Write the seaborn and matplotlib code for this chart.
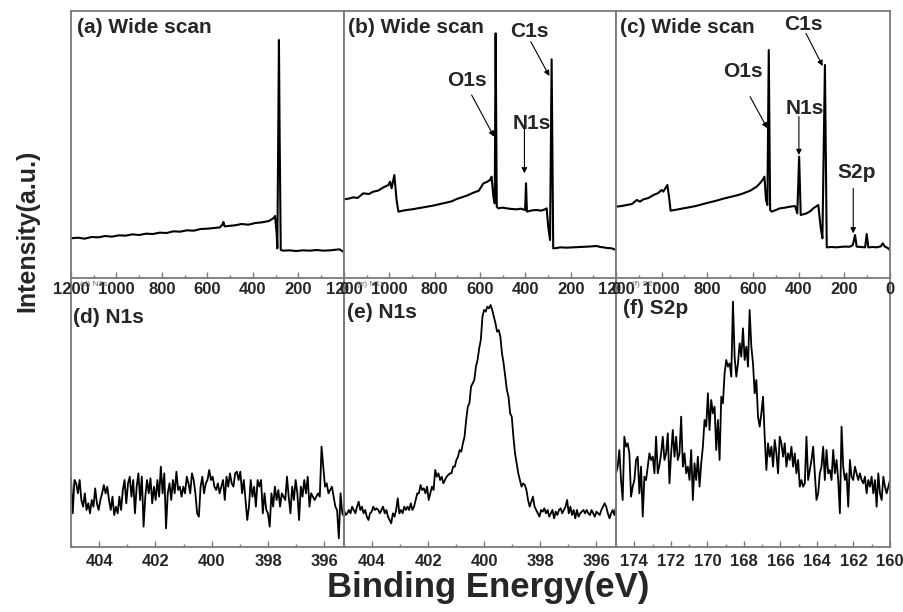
import numpy as np
import pandas as pd
import matplotlib
matplotlib.use("Agg")
import matplotlib.pyplot as plt
import seaborn as sns
from matplotlib.ticker import MultipleLocator

# ---- wide scans (binding energy in eV, intensity in a.u.) ----
a_be = [1200, 1170, 1140, 1110, 1080, 1050, 1020, 990, 960, 930,
        900, 870, 840, 810, 780, 750, 720, 690, 660, 630,
        600, 570, 545, 535, 530, 525, 510, 480, 450, 420,
        390, 360, 330, 311, 303, 296, 293, 289, 286, 283,
        278, 267, 240, 210, 180, 150, 120, 90, 60, 35,
        20, 10, 0]
a_int = [119, 121, 118, 123, 122, 126, 124, 128, 127, 131,
         129, 133, 132, 136, 135, 140, 139, 143, 142, 147,
         148, 150, 152, 160, 168, 155, 156, 158, 162, 160,
         165, 167, 171, 179, 186, 134, 89, 434, 714, 434,
         84, 82, 83, 81, 83, 82, 84, 82, 83, 85,
         86, 82, 78]

b_be = [1200, 1180, 1159, 1140, 1115, 1090, 1071, 1050, 1026, 1004,
        997, 990, 978, 968, 960, 940, 924, 900, 875, 850,
        825, 800, 776, 750, 725, 703, 680, 655, 629, 605,
        585, 570, 556, 549, 541, 535, 531, 526, 519, 500,
        482, 460, 438, 420, 401, 397, 393, 370, 350, 330,
        313, 306, 299, 291, 284, 277, 260, 247, 220, 188,
        160, 129, 105, 85, 70, 56, 40, 19, 0]
b_int = [236, 238, 242, 240, 254, 252, 259, 262, 272, 279,
         289, 269, 309, 234, 199, 202, 204, 206, 209, 212,
         215, 218, 222, 226, 230, 237, 242, 248, 256, 262,
         284, 288, 294, 304, 244, 224, 734, 214, 209, 211,
         209, 207, 206, 208, 204, 284, 199, 203, 204, 202,
         206, 209, 154, 114, 656, 89, 90, 92, 91, 92,
         93, 94, 95, 96, 93, 92, 90, 89, 84]

c_be = [1200, 1175, 1153, 1130, 1109, 1095, 1080, 1058, 1036, 1015,
        1000, 993, 975, 966, 961, 935, 905, 880, 850, 818,
        790, 760, 730, 700, 670, 642, 612, 584, 570, 558,
        550, 543, 537, 531, 525, 518, 500, 482, 460, 438,
        416, 406, 398, 391, 365, 350, 336, 314, 304, 296,
        285, 277, 255, 234, 205, 175, 163, 153, 146, 125,
        109, 102, 95, 75, 58, 40, 32, 22, 10, 0]
c_int = [214, 216, 219, 222, 234, 229, 236, 240, 249, 255,
         264, 259, 279, 234, 202, 205, 209, 212, 216, 222,
         227, 232, 238, 243, 248, 254, 262, 274, 284, 294,
         304, 234, 219, 684, 204, 199, 204, 209, 211, 214,
         216, 194, 364, 189, 194, 200, 209, 219, 154, 119,
         639, 92, 93, 92, 94, 94, 99, 129, 94, 93,
         92, 132, 92, 93, 92, 95, 104, 94, 90, 84]

# ---- high resolution scans, read left to right (405 -> 395.3 eV, 175 -> 160 eV) ----
d_int = [205, 100, 200, 190, 160, 200, 140, 120, 160, 110, 130, 100, 140, 120, 175, 130,
         110, 140, 160, 185, 160, 180, 140, 110, 150, 95, 120, 100, 150, 110, 170, 200,
         130, 190, 210, 150, 200, 100, 180, 220, 140, 210, 60, 150, 200, 160, 205, 130,
         180, 140, 200, 150, 240, 160, 220, 55, 160, 190, 140, 200, 160, 225, 170, 180,
         150, 180, 160, 210, 190, 160, 220, 200, 160, 100, 90, 180, 210, 160, 190, 200,
         230, 200, 210, 180, 170, 190, 160, 180, 200, 140, 210, 180, 220, 190, 180, 220,
         225, 200, 225, 160, 200, 140, 80, 120, 200, 150, 180, 120, 200, 180, 200, 100,
         160, 110, 100, 60, 160, 120, 180, 140, 170, 120, 160, 150, 140, 210, 150, 100,
         180, 140, 200, 160, 80, 180, 150, 200, 160, 210, 120, 160, 150, 140, 150, 160,
         150, 300, 240, 180, 190, 160, 170, 180, 150, 120, 110, 25, 160, 100, 90]
e_int = [110, 95, 100, 110, 100, 120, 110, 100, 120, 135, 110, 120, 100, 110, 90, 80,
         100, 105, 120, 110, 115, 110, 100, 110, 120, 100, 110, 90, 80, 70, 100, 90,
         110, 145, 100, 110, 100, 120, 110, 120, 110, 130, 110, 120, 140, 160, 160, 185,
         170, 175, 160, 180, 140, 160, 180, 170, 230, 210, 220, 200, 210, 190, 200, 210,
         215, 220, 220, 240, 240, 260, 270, 290, 285, 310, 330, 380, 420, 430, 480, 490,
         500, 540, 560, 595, 620, 690, 710, 705, 720, 715, 725, 710, 690, 670, 645, 650,
         630, 580, 550, 510, 470, 450, 400, 390, 330, 280, 250, 220, 200, 180, 190, 185,
         170, 140, 120, 135, 150, 120, 110, 100, 90, 110, 105, 115, 100, 110, 90, 100,
         110, 85, 105, 95, 110, 115, 100, 110, 120, 140, 100, 120, 95, 110, 85, 110,
         90, 100, 105, 110, 100, 110, 100, 95, 110, 100, 90, 105, 100, 95, 110, 120,
         130, 120, 100, 85, 100, 110, 95, 120]
f_int = [220, 240, 290, 200, 140, 330, 300, 310, 280, 150, 180, 200, 260, 270, 160, 240,
         90, 210, 200, 240, 280, 260, 270, 220, 330, 220, 245, 280, 330, 260, 280, 340,
         190, 280, 350, 270, 330, 260, 280, 390, 240, 280, 220, 240, 200, 290, 140, 250,
         200, 270, 180, 250, 300, 380, 360, 460, 350, 440, 400, 420, 290, 380, 260, 450,
         430, 520, 560, 540, 550, 510, 735, 570, 510, 550, 610, 570, 655, 560, 600, 540,
         710, 600, 550, 460, 500, 390, 360, 400, 450, 330, 230, 310, 270, 300, 240, 320,
         280, 220, 330, 310, 270, 310, 240, 280, 260, 300, 240, 280, 220, 260, 180, 200,
         180, 190, 330, 200, 230, 260, 300, 220, 140, 160, 220, 240, 300, 200, 290, 220,
         230, 200, 290, 220, 260, 200, 100, 360, 240, 200, 220, 120, 260, 210, 200, 240,
         220, 200, 220, 200, 190, 210, 160, 200, 180, 210, 160, 200, 120, 220, 160, 140,
         210, 180, 160, 180, 200]

d_be = np.linspace(405, 395.3, len(d_int))   # instrument step grid
e_be = np.linspace(405, 395.3, len(e_int))
f_be = np.linspace(175, 160, len(f_int))

titles = ["(a) Wide scan", "(b) Wide scan", "(c) Wide scan", "(d) N1s", "(e) N1s", "(f) S2p"]

# peak labels: (text, text position, arrow start, arrow end) in data coords
b_marks = [("O1s", (659, 594), (637, 549), (538, 424)),
           ("N1s", (372, 464), (404, 449), (404, 314)),
           ("C1s", (384, 739), (376, 709), (294, 606))]
c_marks = [("C1s", (380, 759), (368, 734), (295, 636)),
           ("O1s", (642, 619), (613, 544), (537, 449)),
           ("N1s", (372, 509), (399, 484), (399, 369)),
           ("S2p", (146, 316), (161, 269), (161, 134))]

sns.set_theme(style="white")
plt.rcParams["font.family"] = ["Liberation Sans", "DejaVu Sans"]
plt.rcParams["font.weight"] = "bold"

W, H = 904, 612
fig = plt.figure(figsize=(W / 100, H / 100), dpi=100)


def rect(x0, y0, x1, y1):
    return [x0 / W, 1 - y1 / H, (x1 - x0) / W, (y1 - y0) / H]


cols = [(71, 344), (344, 616), (616, 890)]
spine_col = "#7a7a7a"

# bottom row first so the top row tick labels sit over it
bottom_axes = [fig.add_axes(rect(x0, 278, x1, 547)) for x0, x1 in cols]
top_axes = [fig.add_axes(rect(x0, 11, x1, 278)) for x0, x1 in cols]

wide = [(a_be, a_int), (b_be, b_int), (c_be, c_int)]
hires = [(d_be, d_int), (e_be, e_int), (f_be, f_int)]

for ax, (be, y) in zip(top_axes, wide):
    df = pd.DataFrame({"be": be, "counts": y})
    sns.lineplot(data=df, x="be", y="counts", ax=ax, color="black", lw=1.5,
                 sort=False, estimator=None)
    ax.set_xlim(1200, 0)
    ax.set_ylim(0, 801)
    ax.xaxis.set_major_locator(MultipleLocator(200))
    ax.xaxis.set_minor_locator(MultipleLocator(100))
    ax.tick_params(axis="x", labelsize=12, pad=3)

for ax, (be, y) in zip(bottom_axes, hires):
    df = pd.DataFrame({"be": be, "counts": y})
    sns.lineplot(data=df, x="be", y="counts", ax=ax, color="black", lw=1.3,
                 sort=False, estimator=None)
    ax.set_ylim(-1, 806)
    ax.xaxis.set_major_locator(MultipleLocator(2))
    ax.xaxis.set_minor_locator(MultipleLocator(1))
    ax.tick_params(axis="x", labelsize=12, pad=5)
    ax.set_facecolor("none")
    ax.spines["top"].set_visible(False)

bottom_axes[0].set_xlim(405, 395.3)
bottom_axes[1].set_xlim(405, 395.3)
bottom_axes[2].set_xlim(175, 160)

for ax in top_axes + bottom_axes:
    ax.set_xlabel("")
    ax.set_ylabel("")
    ax.set_yticks([])
    ax.tick_params(axis="x", which="both", direction="in", bottom=True, top=False,
                   color=spine_col, width=1)
    ax.tick_params(axis="x", which="major", length=4)
    ax.tick_params(axis="x", which="minor", length=2.5)
    for sp in ax.spines.values():
        sp.set_color(spine_col)
        sp.set_linewidth(1.3)

title_pos = [(0.022, 0.94), (0.015, 0.94), (0.015, 0.94),
             (0.008, 0.855), (0.011, 0.87), (0.026, 0.888)]
for ax, t, (tx, ty) in zip(top_axes + bottom_axes, titles, title_pos):
    ax.text(tx, ty, t, transform=ax.transAxes, fontsize=15, fontweight="bold",
            ha="left", va="center")

arrow = dict(arrowstyle="-|>", color="black", lw=0.8, mutation_scale=8,
             shrinkA=0, shrinkB=0)
for ax, marks in [(top_axes[1], b_marks), (top_axes[2], c_marks)]:
    for label, txt, start, end in marks:
        ax.text(*txt, label, fontsize=15, fontweight="bold", ha="center", va="center")
        ax.annotate("", xy=end, xytext=start, arrowprops=arrow)

# faint leftover labels under the top-row tick labels
for x, t in [(80, "(d) N1s"), (357, "(e) N1s"), (632, "(f) S2p")]:
    fig.text(x / W, 1 - 285 / H, t, fontsize=6, color="#666666",
             fontweight="normal", ha="left", va="center", zorder=0)

fig.text(27 / W, 1 - 231 / H, "Intensity(a.u.)", rotation=90, fontsize=18,
         fontweight="bold", ha="center", va="center")
fig.text(488 / W, 1 - 588 / H, "Binding Energy(eV)", fontsize=25,
         fontweight="bold", ha="center", va="center")

fig.savefig("out.png", dpi=100)
